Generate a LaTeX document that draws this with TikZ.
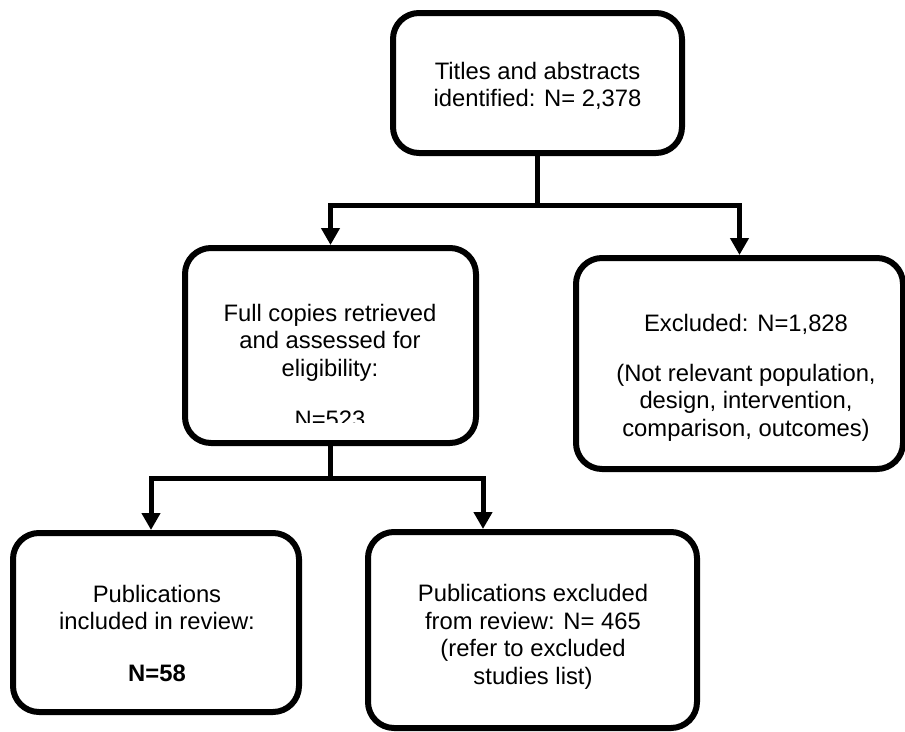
\documentclass[tikz,border=0pt]{standalone}
\usepackage{fontspec}
\setmainfont{Liberation Sans}
\usetikzlibrary{arrows.meta}

\def\lw{6pt}
\def\fs{\fontsize{23.8}{27.5}\selectfont}

\begin{document}
\begin{tikzpicture}[x=1pt, y=-1pt]
	\tikzset{box/.style={draw, line width=\lw, rounded corners=26pt, inner sep=0pt},
		txt/.style={align=center, font=\fs, inner sep=0pt},
		stem/.style={line width=5pt},
		edge/.style={line width=5pt, -{Triangle[width=18pt,length=17pt]}}}
	\useasboundingbox (0,0) rectangle (905,731);
	\node[box, minimum width=289pt, minimum height=140pt](titles) at (537.5,83){};
	\node[txt](titlest) at (537.5,86){Titles and abstracts\\identified: N= 2,378};
	\node[box, minimum width=291pt, minimum height=195pt](full) at (330.5,345.5){};
	\begin{scope}
		\clip (180,240) rectangle (480,422);
		\node[txt](fullt) at (330,366){Full copies retrieved\\and assessed for\\eligibility:\\[24pt]N=523};
	\end{scope}
	\node[box, minimum width=327pt, minimum height=211pt](excl) at (739.5,363.5){};
	\node[txt](exclt) at (746,378){Excluded: N=1,828\\[22pt](Not relevant population,\\design, intervention,\\comparison, outcomes)};
	\node[box, minimum width=286pt, minimum height=179pt](incl) at (156,622.5){};
	\node[txt](inclt) at (157,633){Publications\\included in review:\\[24pt]\textbf{N=58}};
	\node[box, minimum width=329pt, minimum height=196pt](pubex) at (532.5,630){};
	\node[txt](pubext) at (533,637){Publications excluded\\from review: N= 465\\(refer to excluded\\studies list)};
	\draw[stem] (titles.south) -- ++(0,49) coordinate (j1);
	\draw[edge] (j1) -| (full.north);
	\draw[edge] (j1) -| (excl.north);
	\draw[stem] (full.south) -- ++(0,32) coordinate (j2);
	\draw[edge] (j2) -| ([xshift=-5pt]incl.north);
	\draw[edge] (j2) -| ([xshift=-49.5pt]pubex.north);
\end{tikzpicture}
\end{document}
